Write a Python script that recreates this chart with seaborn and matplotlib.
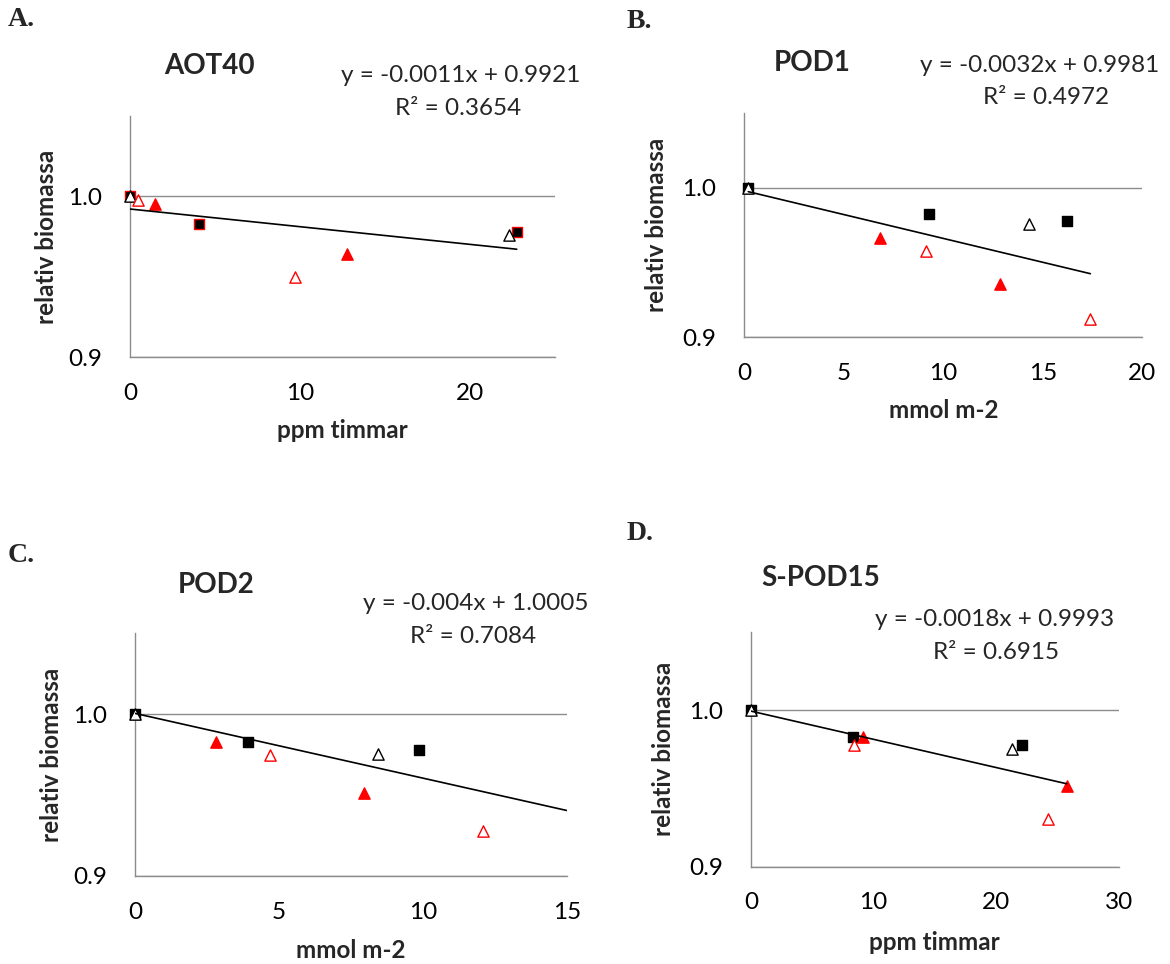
import numpy as np
import pandas as pd
import seaborn as sns
import matplotlib.pyplot as plt

sns.set_theme(style="white")
plt.rcParams['font.family'] = ['Lato', 'DejaVu Sans']

# ---------------- data ----------------
panel_letters = ["A.", "B.", "C.", "D."]
titles = ["AOT40", "POD1", "POD2", "S-POD15"]
xlabels = ["ppm timmar", "mmol m-2", "mmol m-2", "ppm timmar"]
ylabel = "relativ biomassa"
xticks = [[0, 10, 20], [0, 5, 10, 15, 20], [0, 5, 10, 15], [0, 10, 20, 30]]
xmax = [25, 20, 15, 30]
yticks = [0.9, 1.0]
ytick_labels = ["0.9", "1.0"]

series_order = ["kvadrat", "svart öppen", "röd fylld", "röd öppen"]

aot40_x = [0, 4.04, 22.75, 0, 22.3, 1.47, 12.75, 0.49, 9.73]
aot40_y = [1.0, 0.983, 0.978, 1.0, 0.9757, 0.9954, 0.9639, 0.9975, 0.9498]
aot40_serie = ["kvadrat", "kvadrat", "kvadrat", "svart öppen", "svart öppen",
               "röd fylld", "röd fylld", "röd öppen", "röd öppen"]

pod1_x = [0.2, 9.3, 16.23, 0.2, 14.29, 6.83, 12.85, 9.15, 17.39]
pod1_y = [1.0, 0.9826, 0.9777, 1.0, 0.9755, 0.9666, 0.9354, 0.9577, 0.9118]
pod1_serie = aot40_serie

pod2_x = [0, 3.92, 9.87, 0, 8.46, 2.83, 7.96, 4.70, 12.09]
pod2_y = [1.0, 0.9829, 0.9778, 1.0, 0.9753, 0.9829, 0.9514, 0.9745, 0.928]
pod2_serie = aot40_serie

spod15_x = [0, 8.32, 22.12, 0, 21.3, 9.13, 25.76, 8.42, 24.24]
spod15_y = [1.0, 0.9826, 0.9778, 1.0, 0.9752, 0.983, 0.9513, 0.9778, 0.9307]
spod15_serie = aot40_serie

slopes = [-0.0011, -0.0032, -0.004, -0.0018]
intercepts = [0.9921, 0.9981, 1.0005, 0.9993]
r_squared = [0.3654, 0.4972, 0.7084, 0.6915]
forecast_forward = [0, 0, 2.91, 0]

panel_x = [aot40_x, pod1_x, pod2_x, spod15_x]
panel_y = [aot40_y, pod1_y, pod2_y, spod15_y]
panel_s = [aot40_serie, pod1_serie, pod2_serie, spod15_serie]

# ---------------- layout (pixels) ----------------
W, H = 1170, 964
axes_px = [(130, 555, 116, 357), (744.3, 1142.3, 113.3, 337),
           (135, 566.7, 633.3, 876), (751, 1118.7, 631.7, 866.7)]
letter_px = [(8, 19), (627, 21), (8, 556), (627, 533)]
title_px = [(209, 65.5), (812, 63), (216, 585), (821, 578)]
eq_px = [(461, 76), (1040, 65), (476, 603.5), (995, 619)]
r2_px = [(458.5, 108.5), (1046, 97), (473.5, 636.7), (996, 652.5)]
ylab_x = [47, 657, 52, 663]
xlab_y = [431, 411, 950, 943]

RED = "#FF0000"
GREY = "#8C8C8C"
square_edge = [RED, "black", "black", "black"]

fig = plt.figure(figsize=(W / 100, H / 100), dpi=100)
fig.patch.set_facecolor("white")

for i in range(4):
    l, r, t, b = axes_px[i]
    ax = fig.add_axes([l / W, 1 - b / H, (r - l) / W, (b - t) / H])
    ax.set_facecolor("white")
    df = pd.DataFrame({"x": panel_x[i], "y": panel_y[i], "serie": panel_s[i]})

    styles = {
        "kvadrat": dict(marker="s", color="black", edgecolor=square_edge[i], s=62),
        "svart öppen": dict(marker="^", color="white", edgecolor="black", s=66),
        "röd fylld": dict(marker="^", color=RED, edgecolor=RED, s=66),
        "röd öppen": dict(marker="^", color="white", edgecolor=RED, s=66),
    }
    for k, name in enumerate(series_order):
        sub = df[df["serie"] == name]
        st = styles[name]
        sns.scatterplot(data=sub, x="x", y="y", ax=ax, marker=st["marker"],
                        color=st["color"], edgecolor=st["edgecolor"],
                        s=st["s"], linewidth=1.0, legend=False, zorder=3 + k,
                        clip_on=False)

    # linear trend line from the printed equation
    x0 = min(panel_x[i])
    x1 = max(panel_x[i]) + forecast_forward[i]
    xs = np.array([x0, x1])
    ax.plot(xs, slopes[i] * xs + intercepts[i], color="black", lw=1.2, zorder=8)

    ax.set_xlim(0, xmax[i])
    ax.set_ylim(0.9, 1.05)
    ax.set_xticks(xticks[i])
    ax.set_xticklabels([str(v) for v in xticks[i]])
    ax.set_yticks(yticks)
    ax.set_yticklabels(ytick_labels)
    ax.yaxis.grid(True, color=GREY, lw=1.0)
    ax.xaxis.grid(False)
    for sp in ["top", "right"]:
        ax.spines[sp].set_visible(False)
    for sp in ["left", "bottom"]:
        ax.spines[sp].set_color(GREY)
        ax.spines[sp].set_linewidth(1.0)
    ax.tick_params(axis="x", direction="in", length=6, width=1, color=GREY,
                   pad=18.5, labelsize=17.5, labelcolor="black")
    ax.tick_params(axis="y", length=0, pad=20, labelsize=17.5, labelcolor="black")

    ax.set_xlabel(xlabels[i], fontsize=17.5, fontweight="bold", va="center")
    ax.xaxis.set_label_coords(0.5, (b - xlab_y[i]) / (b - t))
    ax.set_ylabel(ylabel, fontsize=17.5, fontweight="bold", va="center")
    ax.yaxis.set_label_coords((ylab_x[i] - l) / (r - l), 0.5)

    fig.text(letter_px[i][0] / W, 1 - letter_px[i][1] / H, panel_letters[i],
             family="Liberation Serif", fontweight="bold", fontsize=20,
             ha="left", va="center")
    fig.text(title_px[i][0] / W, 1 - title_px[i][1] / H, titles[i],
             fontsize=20, fontweight="bold", ha="center", va="center")
    fig.text(eq_px[i][0] / W, 1 - eq_px[i][1] / H,
             f"y = {slopes[i]}x + {intercepts[i]}",
             fontsize=17.5, ha="center", va="center")
    fig.text(r2_px[i][0] / W, 1 - r2_px[i][1] / H,
             f"R² = {r_squared[i]:.4f}",
             fontsize=17.5, ha="center", va="center")

fig.savefig("out.png", dpi=100, facecolor="white")
